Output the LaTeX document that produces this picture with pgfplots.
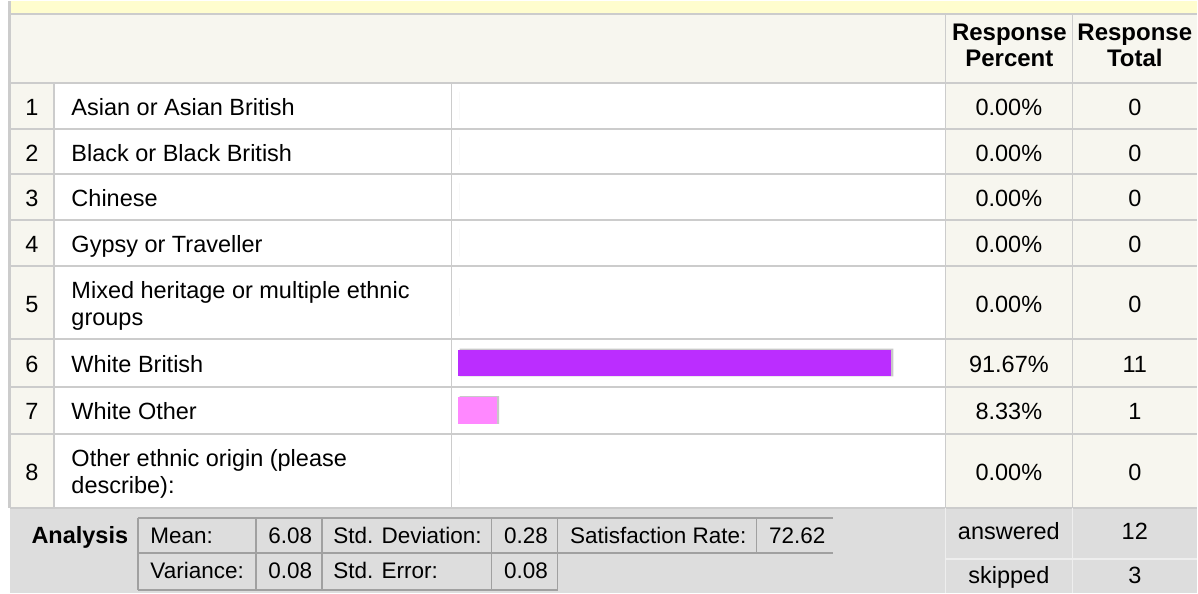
\documentclass[border=0pt]{standalone}
\usepackage{pgfplots}
\pgfplotsset{compat=1.18}
\usepackage{pgfplotstable}
\usepackage{fontspec}
\setmainfont{Liberation Sans}
\definecolor{ylw}{RGB}{255,253,206}
\definecolor{beige}{RGB}{247,246,239}
\definecolor{gridc}{RGB}{204,204,204}
\definecolor{anbg}{RGB}{221,221,221}
\definecolor{anline}{RGB}{238,238,238}
\definecolor{innerc}{RGB}{160,160,160}
\definecolor{purp}{RGB}{187,45,255}
\definecolor{pinkc}{RGB}{255,136,255}
\definecolor{barb}{RGB}{200,200,200}
\newcommand{\bodyfont}{\fontsize{23.5}{27}\selectfont}
\newcommand{\smfont}{\fontsize{22.5}{26}\selectfont}
\newcommand{\hdfont}{\fontsize{24}{26}\selectfont\bfseries}

% response data: row, y position of the row (px), percent, total
\pgfplotstableread{
row ypos pct total
1 105 0.00 0
2 150.5 0.00 0
3 196 0.00 0
4 242 0.00 0
5 301.5 0.00 0
6 362 91.67 11
7 409.5 8.33 1
8 470 0.00 0
}\resp

\begin{document}
\begin{tikzpicture}
\begin{axis}[at={(0pt,0pt)}, anchor=south west,
  width=1198pt, height=592pt, scale only axis,
  xmin=0, xmax=1198, ymin=0, ymax=592, y dir=reverse,
  hide axis, clip=false]
% backgrounds
\fill[white] (0,0) rectangle (1198,592);
\fill[ylw] (11,0) rectangle (1198,12.5);
\fill[beige] (11,13) rectangle (1198,82);
\fill[beige] (11,82) rectangle (54,507);
\fill[beige] (946,82) rectangle (1198,507);
\fill[anbg] (10,507) rectangle (1198,592);
% grid
\draw[gridc, line width=1.5pt] (11,13) -- (1198,13);
\pgfplotsinvokeforeach{82,128,173,219,265,338,386,433,507}
  {\draw[gridc, line width=1.5pt] (10,#1) -- (1198,#1);}
\draw[gridc, line width=2.5pt] (9.5,0) -- (9.5,507);
\draw[gridc, line width=1.5pt] (54,82) -- (54,507);
\draw[gridc, line width=1.5pt] (452,82) -- (452,507);
\draw[gridc, line width=1.5pt] (946,13) -- (946,507);
\draw[gridc, line width=1.5pt] (1073,13) -- (1073,507);
\draw[anline, line width=1.5pt] (946,507) -- (946,592);
\draw[anline, line width=1.5pt] (1073,507) -- (1073,592);
\draw[anline, line width=1.5pt] (946,558) -- (1198,558);
% header
\node[anchor=base, font=\hdfont] at (1010,39) {Response};
\node[anchor=base, font=\hdfont] at (1010,65) {Percent};
\node[anchor=base, font=\hdfont] at (1135.5,39) {Response};
\node[anchor=base, font=\hdfont] at (1135.5,65) {Total};
% row numbers
\node[anchor=base, font=\bodyfont] at (32,114.5) {1};
\node[anchor=base, font=\bodyfont] at (32,160) {2};
\node[anchor=base, font=\bodyfont] at (32,205.5) {3};
\node[anchor=base, font=\bodyfont] at (32,251.5) {4};
\node[anchor=base, font=\bodyfont] at (32,311) {5};
\node[anchor=base, font=\bodyfont] at (32,371.5) {6};
\node[anchor=base, font=\bodyfont] at (32,419) {7};
\node[anchor=base, font=\bodyfont] at (32,479.5) {8};
% labels
\node[anchor=base west, font=\bodyfont] at (68,114.5) {Asian or Asian British};
\node[anchor=base west, font=\bodyfont] at (68,160) {Black or Black British};
\node[anchor=base west, font=\bodyfont] at (68,205.5) {Chinese};
\node[anchor=base west, font=\bodyfont] at (68,251.5) {Gypsy or Traveller};
\node[anchor=base west, font=\bodyfont] at (68,297.5) {Mixed heritage or multiple ethnic};
\node[anchor=base west, font=\bodyfont] at (68,324.5) {groups};
\node[anchor=base west, font=\bodyfont] at (68,371.5) {White British};
\node[anchor=base west, font=\bodyfont] at (68,419) {White Other};
\node[anchor=base west, font=\bodyfont] at (68,466) {Other ethnic origin (please};
\node[anchor=base west, font=\bodyfont] at (68,493) {describe):};
% percents and totals
\node[anchor=base, font=\bodyfont] at (1009.5,114.5) {0.00\%};
\node[anchor=base, font=\bodyfont] at (1009.5,160) {0.00\%};
\node[anchor=base, font=\bodyfont] at (1009.5,205.5) {0.00\%};
\node[anchor=base, font=\bodyfont] at (1009.5,251.5) {0.00\%};
\node[anchor=base, font=\bodyfont] at (1009.5,311) {0.00\%};
\node[anchor=base, font=\bodyfont] at (1009.5,371.5) {91.67\%};
\node[anchor=base, font=\bodyfont] at (1009.5,419) {8.33\%};
\node[anchor=base, font=\bodyfont] at (1009.5,479.5) {0.00\%};
\node[anchor=base, font=\bodyfont] at (1135.5,114.5) {0};
\node[anchor=base, font=\bodyfont] at (1135.5,160) {0};
\node[anchor=base, font=\bodyfont] at (1135.5,205.5) {0};
\node[anchor=base, font=\bodyfont] at (1135.5,251.5) {0};
\node[anchor=base, font=\bodyfont] at (1135.5,311) {0};
\node[anchor=base, font=\bodyfont] at (1135.5,371.5) {11};
\node[anchor=base, font=\bodyfont] at (1135.5,419) {1};
\node[anchor=base, font=\bodyfont] at (1135.5,479.5) {0};
% analysis
\node[anchor=base west, font=\bodyfont\bfseries] at (28,543) {Analysis};
\draw[innerc, line width=1.5pt] (138,517) -- (834,517);
\draw[innerc, line width=1.5pt] (138,552) -- (834,552);
\draw[innerc, line width=1.5pt] (138,589) -- (558,589);
\pgfplotsinvokeforeach{138,256,322,492,558}
  {\draw[innerc, line width=1.5pt] (#1,517) -- (#1,589);}
\draw[innerc, line width=1.5pt] (757,517) -- (757,552);
\node[anchor=base west, font=\smfont] at (147,543) {Mean:};
\node[anchor=base west, font=\smfont] at (265,543) {6.08};
\node[anchor=base west, font=\smfont] at (330,543) {Std. Deviation:};
\node[anchor=base west, font=\smfont] at (501,543) {0.28};
\node[anchor=base west, font=\smfont] at (567,543) {Satisfaction Rate:};
\node[anchor=base west, font=\smfont] at (766,543) {72.62};
\node[anchor=base west, font=\smfont] at (147,578) {Variance:};
\node[anchor=base west, font=\smfont] at (265,578) {0.08};
\node[anchor=base west, font=\smfont] at (330,578) {Std. Error:};
\node[anchor=base west, font=\smfont] at (501,578) {0.08};
\node[anchor=base, font=\bodyfont] at (1009.5,539) {answered};
\node[anchor=base, font=\bodyfont] at (1135.5,539) {12};
\node[anchor=base, font=\bodyfont] at (1009.5,583) {skipped};
\node[anchor=base, font=\bodyfont] at (1135.5,583) {3};
\end{axis}
\begin{axis}[at={(458pt,0pt)}, anchor=south west,
  width=473.4pt, height=592pt, scale only axis,
  xmin=0, xmax=100, ymin=0, ymax=592, y dir=reverse,
  hide axis, clip=false]
\addplot[xbar, bar width=27.7, bar shift=-0.5, fill=barb, draw=none, xshift=2pt]
  table[x=pct, y=ypos] {\resp};
\addplot[xbar, bar width=26.7, bar shift=0, fill=purp, draw=none]
  coordinates {(91.67,362)};
\addplot[xbar, bar width=26.7, bar shift=0, fill=pinkc, draw=none]
  coordinates {(8.33,409.5)};
\end{axis}
\end{tikzpicture}
\end{document}
